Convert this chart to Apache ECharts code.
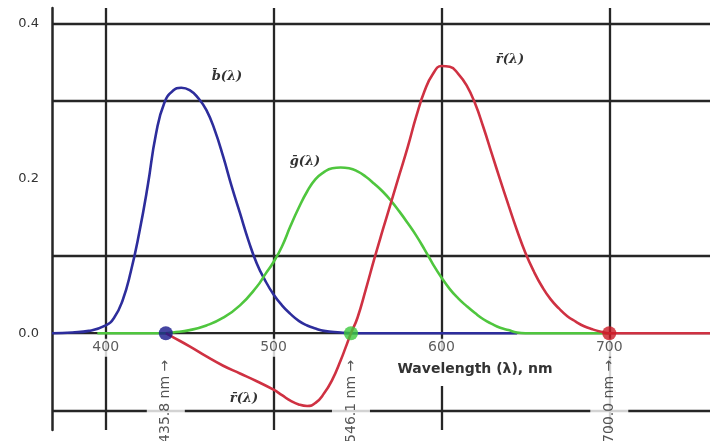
<!DOCTYPE html>
<html><head><meta charset="utf-8">
<script src="https://cdn.jsdelivr.net/npm/echarts@6/dist/echarts.min.js"></script>
<style>html,body{margin:0;padding:0;background:#fff}#c{width:710px;height:441px}</style>
</head><body><div id="c"></div>
<script>
// ---- data ----
const blueWl  = [368,380,390,400,405,410,415,420,425,430,435,440,445,450,455,460,465,470,475,480,485,490,495,500,505,510,515,520,525,530,540,546.1,560,580,600,620,645];
const blueVal = [0,0.001,0.003,0.010,0.02,0.042,0.08,0.13,0.19,0.258,0.298,0.313,0.317,0.314,0.304,0.288,0.262,0.228,0.19,0.155,0.12,0.09,0.068,0.05,0.036,0.025,0.016,0.01,0.006,0.003,0.001,0,0,0,0,0,0];

const greenWl  = [395,405,415,425,435.8,440,450,460,470,480,490,495,500,505,510,515,520,525,530,535,540,545,550,555,560,565,570,575,580,585,590,595,600,605,610,615,620,625,630,635,640,645,650,660,680,700];
const greenVal = [0,0,0,0,0,0.001,0.004,0.01,0.02,0.036,0.06,0.076,0.092,0.112,0.138,0.162,0.183,0.199,0.208,0.213,0.214,0.213,0.209,0.202,0.193,0.183,0.171,0.157,0.142,0.126,0.108,0.089,0.072,0.057,0.045,0.035,0.026,0.018,0.012,0.007,0.004,0.001,0,0,0,0];

const redWl  = [435.8,440,450,460,470,480,490,500,505,510,515,520,525,530,535,540,543,546.1,550,555,560,565,570,575,580,585,590,595,600,605,610,615,620,625,630,635,640,645,650,655,660,665,670,675,680,685,690,695,700,720,740,760];
const redVal = [0,-0.005,-0.017,-0.03,-0.042,-0.052,-0.062,-0.073,-0.08,-0.087,-0.092,-0.094,-0.09,-0.078,-0.06,-0.035,-0.018,0,0.02,0.057,0.096,0.133,0.169,0.205,0.241,0.28,0.313,0.335,0.345,0.344,0.335,0.32,0.297,0.266,0.232,0.198,0.165,0.133,0.104,0.08,0.06,0.044,0.032,0.022,0.015,0.009,0.005,0.002,0,0,0,0];

const markerWl = [435.8, 546.1, 700.0];
const markerColors = ['#16168a', '#3cc83c', '#cc1a26'];
const xTicks = [400, 500, 600, 700];
const yTicks = [0, 0.2, 0.4];
const gridY = [-0.1, 0.1, 0.3, 0.4];
const axisTitle = 'Wavelength (\u03bb), nm';
const curveNames = ['b\u0304(\u03bb)', 'g\u0304(\u03bb)', 'r\u0304(\u03bb)', 'r\u0304(\u03bb)'];

const zip = (a, b) => a.map((v, i) => [v, b[i]]);
const lineCol = '#262626';
const clear = 'rgba(0,0,0,0)';

const chart = echarts.init(document.getElementById('c'), null, {renderer: 'canvas'});
const curveStyle = (c) => ({color: c, width: 2.6});
const nameFont = 'bold italic 13px DejaVu Serif';
const nameText = (x, y, t) => ({type: 'text', x: x, y: y, z: 100,
  style: {text: t, font: nameFont, fill: '#333', textAlign: 'center', textVerticalAlign: 'middle'}});
chart.setOption({
  animation: false,
  backgroundColor: '#fff',
  grid: {left: 52, right: 0, top: 8, bottom: 11, containLabel: false},
  xAxis: {
    type: 'value', min: 368, max: 760,
    axisLine: {show: false}, axisTick: {show: false}, splitLine: {show: false}, axisLabel: {show: false}
  },
  yAxis: {
    type: 'value', min: -0.125, max: 0.42,
    axisLine: {show: true, lineStyle: {color: lineCol, width: 2.5}},
    axisTick: {show: false}, splitLine: {show: false},
    axisLabel: {customValues: yTicks, margin: 13, color: '#333', fontSize: 13,
      fontFamily: 'DejaVu Sans', formatter: v => v.toFixed(1)}
  },
  graphic: [
    {type: 'text', x: 475, y: 369, z: 100, style: {text: axisTitle, font: 'bold 14px DejaVu Sans', fill: '#333',
      textAlign: 'center', textVerticalAlign: 'middle', backgroundColor: '#fff', padding: [10, 4]}},
    nameText(227, 77, curveNames[0]),
    nameText(305, 162, curveNames[1]),
    nameText(510, 60, curveNames[2]),
    nameText(244, 399, curveNames[3])
  ],
  series: [
    {type: 'line', z: 1, symbol: 'none', silent: true,
      data: [[368, 0], [760, 0]], lineStyle: {color: lineCol, width: 2.3},
      markLine: {silent: true, symbol: 'none', label: {show: false},
        lineStyle: {color: lineCol, width: 2.3, type: 'solid'},
        data: gridY.map(v => ({yAxis: v})).concat(xTicks.map(v => ({xAxis: v})))}},
    // x tick labels sitting on the zero line
    {type: 'scatter', z: 5, symbolSize: 1, itemStyle: {color: clear}, silent: true,
      data: xTicks.map(v => [v, 0]),
      label: {show: true, position: 'bottom', distance: 5, formatter: p => String(p.value[0]),
        fontSize: 14, fontFamily: 'DejaVu Sans', color: '#333', backgroundColor: '#fff', padding: [2, 3]}},
    // rotated wavelength labels under the primaries
    {type: 'scatter', z: 5, symbolSize: 1, itemStyle: {color: clear}, silent: true,
      data: markerWl.map(w => [w, 0]),
      label: {show: true, position: 'bottom', distance: 24, rotate: 90, align: 'right', verticalAlign: 'middle',
        formatter: p => p.value[0].toFixed(1) + ' nm \u2192', fontSize: 14, fontFamily: 'DejaVu Sans', color: '#2a2a2a',
        backgroundColor: '#fff', padding: [12, 2, 12, 0]}},
    {type: 'line', z: 6, symbol: 'none', smooth: 0.5, data: zip(blueWl, blueVal), lineStyle: curveStyle('#2d2d9c')},
    {type: 'line', z: 7, symbol: 'none', smooth: 0.5, data: zip(greenWl, greenVal), lineStyle: curveStyle('#4fc63e')},
    {type: 'line', z: 8, symbol: 'none', smooth: 0.5, data: zip(redWl, redVal), lineStyle: curveStyle('#cf3142')},
    {type: 'scatter', z: 9, symbolSize: 14,
      data: markerWl.map((w, i) => ({value: [w, 0], itemStyle: {color: markerColors[i]}}))}
  ]
});
</script></body></html>
